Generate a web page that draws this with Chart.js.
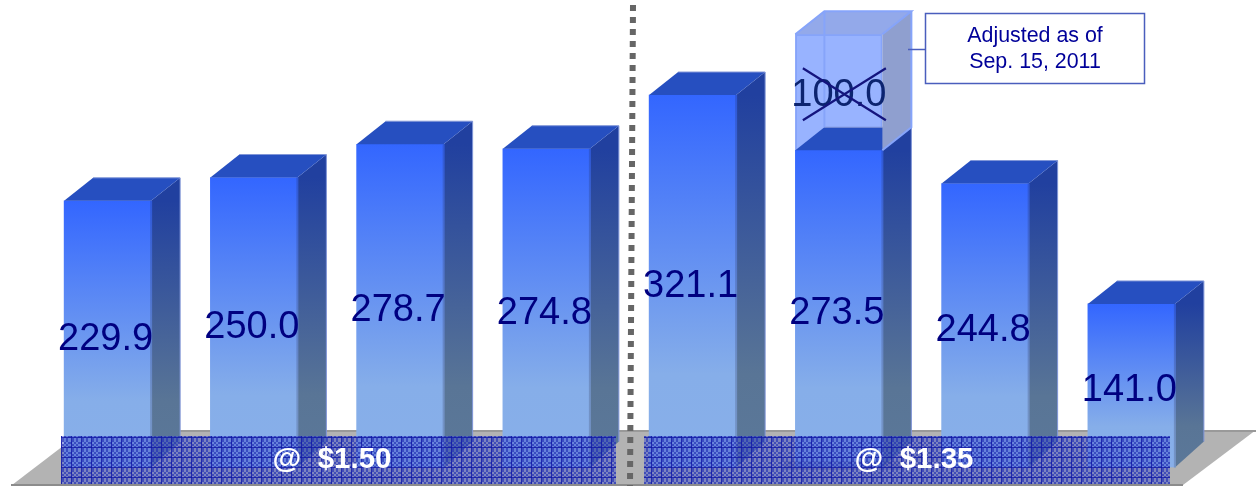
<!DOCTYPE html>
<html>
<head>
<meta charset="utf-8">
<style>
  html, body { margin: 0; padding: 0; background: #fff; }
  #wrap { position: relative; width: 1256px; height: 486px; }
</style>
<script src="https://cdn.jsdelivr.net/npm/chart.js@4/dist/chart.umd.min.js"></script>
</head>
<body>
<div id="wrap"><canvas id="chart" width="1256" height="486"></canvas></div>
<script>
const categories = ['Q1', 'Q2', 'Q3', 'Q4', 'Q5', 'Q6', 'Q7', 'Q8'];
const solidValues = [229.9, 250.0, 278.7, 274.8, 321.1, 273.5, 244.8, 141.0];
const removedValues = [null, null, null, null, null, 100.0, null, null];
const bandLabels = ['@  $1.50', '@  $1.35'];
const noteLines = ['Adjusted as of', 'Sep. 15, 2011'];

const DX = 29, DY = -23;
const FONT = '"Liberation Sans", Arial, sans-serif';

// grid + checker tile used for the two price bands
function bandPattern(ctx) {
  const tile = document.createElement('canvas');
  tile.width = 10;
  tile.height = 10;
  const t = tile.getContext('2d');
  for (let y = 0; y < 10; y++) {
    for (let x = 0; x < 10; x++) {
      const even = (Math.floor(x / 2) + Math.floor(y / 2)) % 2 === 0;
      t.fillStyle = even ? 'rgba(70,85,205,0.5)' : 'rgba(40,55,185,0.82)';
      t.fillRect(x, y, 1, 1);
    }
  }
  t.fillStyle = 'rgba(16,22,165,0.8)';
  t.fillRect(1, 0, 1, 10);
  t.fillRect(0, 7, 10, 1);
  return ctx.createPattern(tile, 'repeat');
}

function poly(ctx, pts, fill) {
  ctx.beginPath();
  pts.forEach((p, i) => (i ? ctx.lineTo(p[0], p[1]) : ctx.moveTo(p[0], p[1])));
  ctx.closePath();
  ctx.fillStyle = fill;
  ctx.fill();
}

function frontGradient(context) {
  const chart = context.chart;
  if (!chart.chartArea || context.parsed === undefined) return '#3366ff';
  const y = chart.scales.y;
  const g = chart.ctx.createLinearGradient(0, y.getPixelForValue(context.parsed.y), 0, y.getPixelForValue(0));
  g.addColorStop(0, '#3366ff');
  g.addColorStop(0.75, '#86aee9');
  g.addColorStop(1, '#88afe9');
  return g;
}

const floorPlugin = {
  id: 'floor',
  beforeDatasetsDraw(chart) {
    const c = chart.ctx;
    poly(c, [[12, 485], [84, 430], [1256, 430], [1183, 485]], '#b3b3b3');
    c.fillStyle = '#999999';
    c.fillRect(84, 430, 1172, 2);
    c.fillStyle = '#8c8c8c';
    c.fillRect(11, 484, 1172, 2);
    // divider between the two price groups
    c.save();
    c.strokeStyle = '#666666';
    c.lineWidth = 6;
    c.setLineDash([6, 6]);
    c.beginPath();
    c.moveTo(633, 5);
    c.lineTo(630, 486);
    c.stroke();
    c.restore();
  }
};

const facesPlugin = {
  id: 'faces',
  afterDatasetsDraw(chart) {
    const c = chart.ctx;
    const y = chart.scales.y;
    const zero = y.getPixelForValue(0);

    chart.getDatasetMeta(0).data.forEach(bar => {
      const l = bar.x - bar.width / 2, r = bar.x + bar.width / 2, t = bar.y;
      const g = c.createLinearGradient(0, t, 0, zero);
      g.addColorStop(0, '#21409f');
      g.addColorStop(0.75, '#597596');
      g.addColorStop(1, '#5b7899');
      poly(c, [[r, t], [r + DX, t + DY], [r + DX, zero - 26], [r, zero]], g);
      poly(c, [[l, t], [l + DX, t + DY], [r + DX, t + DY], [r, t]], '#264fc0');
      const edge = c.createLinearGradient(0, t, 0, zero);
      edge.addColorStop(0, '#2e58d8');
      edge.addColorStop(0.75, '#7090c4');
      edge.addColorStop(1, '#7595c8');
      c.fillStyle = edge;
      c.fillRect(r - 1, t, 2, zero - t);
      // pale rim on the back edges
      c.strokeStyle = '#8196d8';
      c.lineWidth = 1;
      c.beginPath();
      c.moveTo(l + DX, t + DY);
      c.lineTo(r + DX, t + DY);
      c.lineTo(r + DX, zero - 26);
      c.stroke();
    });

    // translucent box for the removed amount
    chart.getDatasetMeta(1).data.forEach((bar, i) => {
      if (removedValues[i] === null) return;
      const l = bar.x - bar.width / 2, r = bar.x + bar.width / 2, t = bar.y, b = y.getPixelForValue(solidValues[i]);
      poly(c, [[r, b], [r + DX, b + DY], [r + DX, t + DY], [r, t]], '#8f9fcf');
      poly(c, [[l, t], [l + DX, t + DY], [r + DX, t + DY], [r, t]], '#93a9ea');
      c.strokeStyle = '#86a4fa';
      c.lineWidth = 2;
      c.beginPath();
      c.moveTo(l, t); c.lineTo(l + DX, t + DY); c.lineTo(r + DX, t + DY); c.lineTo(r, t);
      c.moveTo(r + DX, t + DY); c.lineTo(r + DX, b + DY); c.lineTo(r, b);
      c.moveTo(l + DX, t + DY); c.lineTo(l + DX, b + DY);
      c.stroke();
    });
  }
};

const labelsPlugin = {
  id: 'labels',
  afterDraw(chart) {
    const c = chart.ctx;
    const y = chart.scales.y;
    c.save();

    // soft shadow at the foot of the adjusted bar
    c.fillStyle = 'rgba(40,40,90,0.22)';
    c.fillRect(784, 461, 122, 9);

    // bands
    const pattern = bandPattern(c);
    c.fillStyle = pattern;
    c.fillRect(61, 436, 555, 48);
    c.fillRect(644, 436, 526, 48);

    c.textAlign = 'center';
    c.textBaseline = 'middle';
    c.font = 'bold 29.5px ' + FONT;
    c.fillStyle = '#ffffff';
    c.fillText(bandLabels[0], 332, 460);
    c.fillText(bandLabels[1], 914, 460);

    // value labels
    c.font = '38px ' + FONT;
    c.fillStyle = '#000080';
    chart.getDatasetMeta(0).data.forEach((bar, i) => {
      const mid = (bar.y + y.getPixelForValue(0)) / 2;
      c.fillText(solidValues[i].toFixed(1), bar.x - 2, mid + 5);
    });
    chart.getDatasetMeta(1).data.forEach((bar, i) => {
      if (removedValues[i] === null) return;
      const top = bar.y;
      const cx = bar.x, cy = top + 61;
      c.fillStyle = '#0c2470';
      c.fillText(removedValues[i].toFixed(1), cx, cy);
      c.strokeStyle = '#14147e';
      c.lineWidth = 2.2;
      c.beginPath();
      c.moveTo(cx - 36, cy - 27); c.lineTo(cx + 47, cy + 25);
      c.moveTo(cx - 36, cy + 25); c.lineTo(cx + 47, cy - 27);
      c.stroke();
    });

    // callout
    c.strokeStyle = '#4a5ebd';
    c.lineWidth = 1.5;
    c.beginPath();
    c.moveTo(908, 49.5); c.lineTo(925, 49.5);
    c.stroke();
    c.fillStyle = '#ffffff';
    c.fillRect(925.5, 13.5, 219, 70);
    c.strokeRect(925.5, 13.5, 219, 70);
    c.font = '21.4px ' + FONT;
    c.fillStyle = '#000099';
    c.fillText(noteLines[0], 1035, 36);
    c.fillText(noteLines[1], 1035, 62);
    c.restore();
  }
};

new Chart(document.getElementById('chart').getContext('2d'), {
  type: 'bar',
  data: {
    labels: categories,
    datasets: [
      { data: solidValues, backgroundColor: frontGradient, stack: 's' },
      { data: removedValues, backgroundColor: '#98b3ff', borderColor: '#86a4fa', borderWidth: 2, stack: 's' }
    ]
  },
  options: {
    responsive: false,
    animation: false,
    layout: { padding: { left: 34.5, right: 51.5, top: 3.5, bottom: 18.5 } },
    scales: {
      x: { display: false, stacked: true, barPercentage: 1, categoryPercentage: 1 },
      y: { display: false, stacked: true, min: 0, max: 400 }
    },
    datasets: { bar: { barThickness: 87 } },
    plugins: { legend: { display: false }, tooltip: { enabled: false } }
  },
  plugins: [floorPlugin, facesPlugin, labelsPlugin]
});
</script>
</body>
</html>
